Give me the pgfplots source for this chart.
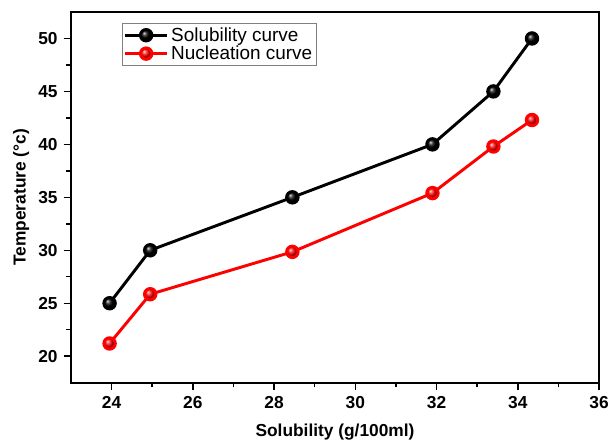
\documentclass[border=0pt]{standalone}
\usepackage{pgfplots}
\pgfplotsset{compat=1.18}
\usepackage{fontspec}
\setmainfont{Liberation Sans}
\begin{document}
\begin{tikzpicture}
\begin{axis}[
  scale only axis,
  width=396pt, height=278pt,
  xmin=23, xmax=36, ymin=17.5, ymax=52.5,
  xtick={24,26,...,36}, ytick={20,25,...,50},
  minor x tick num=1, minor y tick num=1,
  tick align=outside, xtick pos=left, ytick pos=left,
  major tick length=5.5pt, minor tick length=3.5pt,
  every tick/.style={black, line width=1.1pt},
  axis line style={line width=1.5pt},
  /pgf/number format/assume math mode=true,
  ticklabel style={font=\bfseries\fontsize{13}{15}\selectfont},
  xticklabel style={yshift=-1.5pt},
  yticklabel style={xshift=-1pt},
  xlabel={\bfseries Solubility (g/100ml)},
  ylabel={\bfseries Temperature (°c)},
  label style={font=\bfseries\fontsize{13}{15}\selectfont},
  xlabel style={yshift=-4pt},
  ylabel style={yshift=0pt},
  legend style={at={(rel axis cs:0.097,0.97)}, anchor=north west, draw=gray, font=\fontsize{14.2}{16}\selectfont, inner sep=1pt, row sep=-2pt},
  legend cell align=left,
  legend image code/.code={\draw[mark repeat=2,mark phase=2] plot coordinates {(0cm,0cm) (0.55cm,0cm) (1.1cm,0cm)};},
]
\addplot[black, line width=2.2pt, mark=ball, mark size=4.3pt, mark options={ball color=black}] coordinates {
(23.95,25) (24.95,30) (28.45,35) (31.9,40) (33.4,45) (34.35,50)};
\addlegendentry{Solubility curve}
\addplot[red, line width=2.2pt, mark=ball, mark size=4.3pt, mark options={ball color=red}] coordinates {
(23.95,21.2) (24.95,25.85) (28.45,29.85) (31.9,35.4) (33.4,39.8) (34.35,42.3)};
\addlegendentry{Nucleation curve}
\end{axis}
\pgfresetboundingbox
\path (current axis.south west) ++(-53.25pt,-44.25pt) coordinate (bbsw);
\path (current axis.north east) ++(7.5pt,9pt) coordinate (bbne);
\useasboundingbox (bbsw) rectangle (bbne);
\end{tikzpicture}
\end{document}
